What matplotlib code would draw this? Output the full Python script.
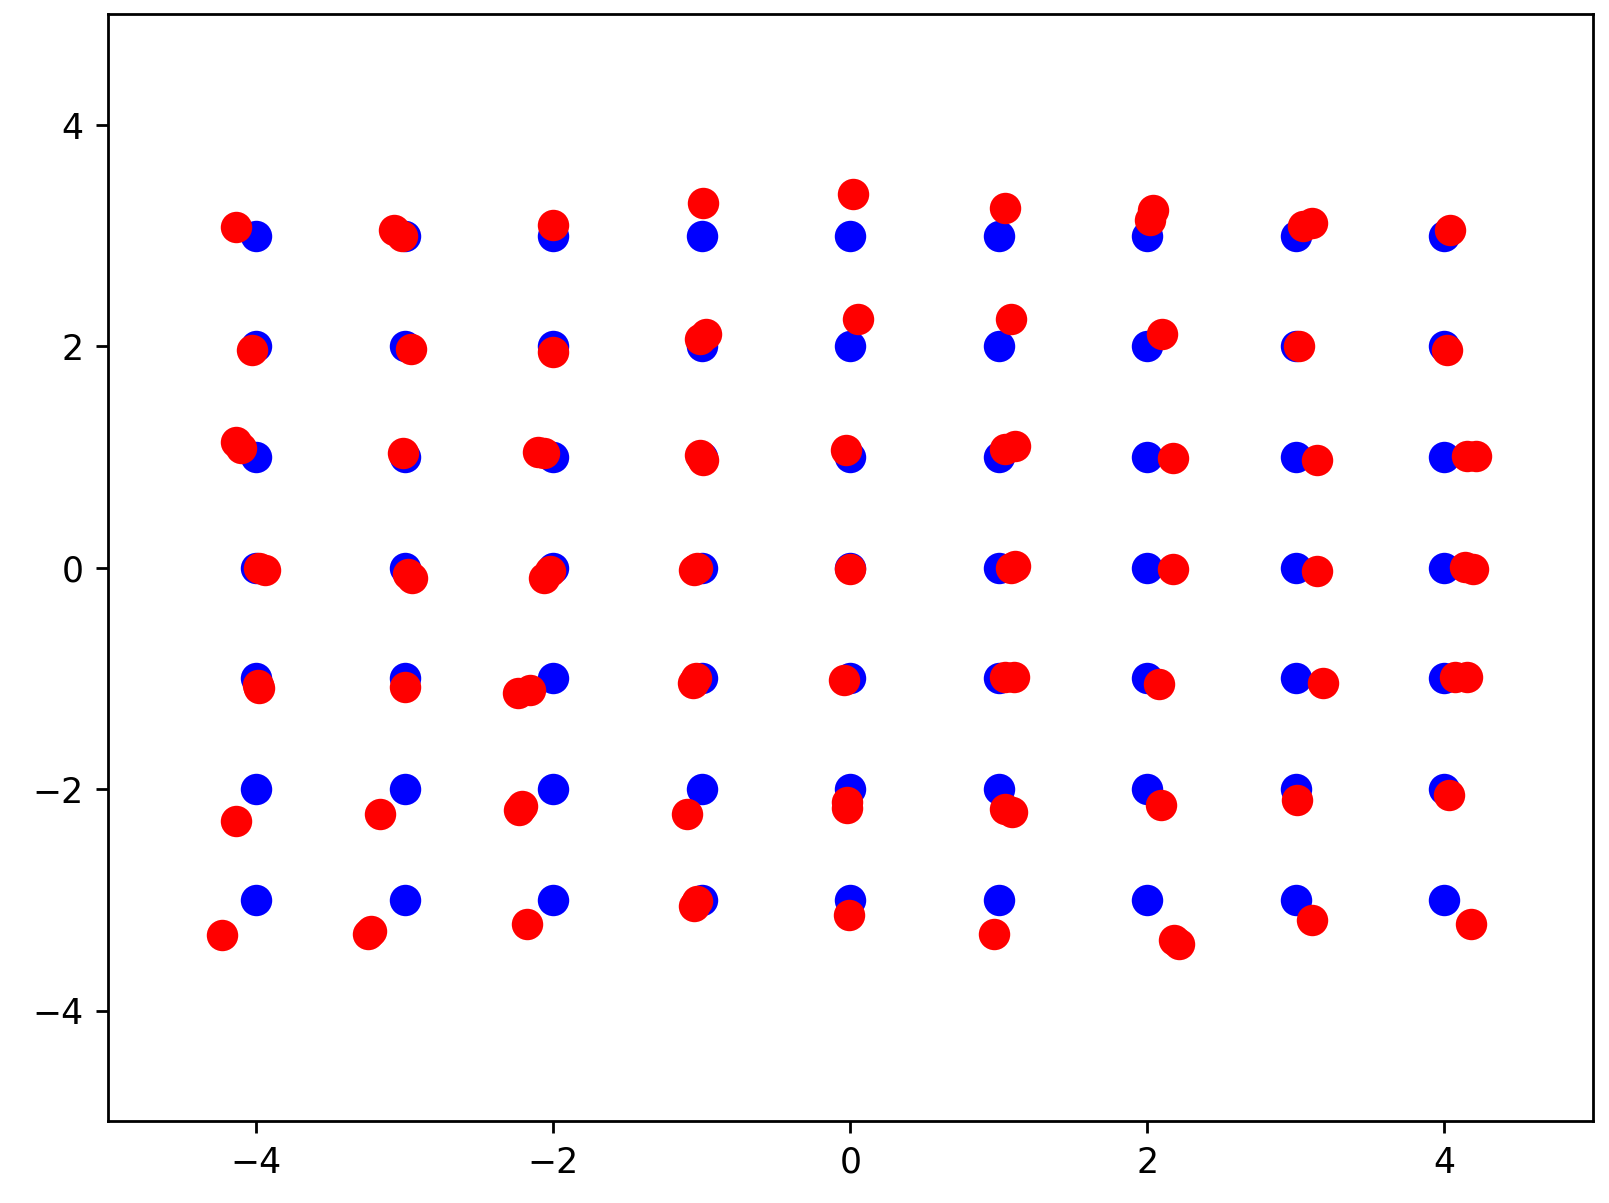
import matplotlib
matplotlib.use("Agg")
import matplotlib.pyplot as plt
import numpy as np

# original grid (blue)
grid_x = [-4, -3, -2, -1, 0, 1, 2, 3, 4]
grid_y = [3, 2, 1, 0, -1, -2, -3]

# displaced points (red)
red_x = [
    -4.14, -3.07, -3.02, -2.00, -0.99, 0.02, 1.04, 2.04, 2.02, 3.05, 3.11, 4.04,
    -4.03, -2.96, -2.00, -1.01, -0.97, 0.05, 1.08, 2.10, 3.02, 4.02,
    -4.14, -4.10, -3.01, -2.10, -2.06, -1.01, -0.99, -0.03, 1.04, 1.11, 2.17, 3.14, 4.15, 4.21,
    -3.98, -3.94, -2.98, -2.95, -2.06, -2.02, -1.05, -1.03, 0.00, 1.08, 1.11, 2.17, 3.14, 4.14, 4.19,
    -3.98, -3.99, -3.00, -2.24, -2.16, -1.06, -1.04, -0.04, 1.04, 1.10, 2.08, 3.18, 4.07, 4.15,
    -4.14, -3.17, -2.23, -2.21, -1.10, -0.02, -0.02, 1.04, 1.09, 2.09, 3.01, 4.03,
    -4.23, -3.25, -3.23, -2.18, -1.05, -1.03, -0.01, 0.97, 2.18, 2.21, 3.11, 4.18,
]
red_y = [
    3.08, 3.05, 3.00, 3.10, 3.30, 3.38, 3.25, 3.23, 3.14, 3.09, 3.12, 3.05,
    1.97, 1.98, 1.95, 2.07, 2.11, 2.25, 2.25, 2.11, 2.00, 1.97,
    1.14, 1.08, 1.04, 1.05, 1.04, 1.02, 0.97, 1.06, 1.07, 1.10, 0.99, 0.97, 1.01, 1.01,
    0.00, -0.02, -0.06, -0.09, -0.09, -0.03, -0.02, 0.00, -0.01, 0.00, 0.02, -0.01, -0.03, 0.01, -0.01,
    -1.09, -1.06, -1.08, -1.13, -1.10, -1.04, -1.00, -1.01, -0.99, -0.99, -1.05, -1.04, -0.99, -0.99,
    -2.29, -2.22, -2.19, -2.15, -2.22, -2.17, -2.12, -2.18, -2.21, -2.14, -2.10, -2.05,
    -3.32, -3.31, -3.28, -3.22, -3.06, -3.01, -3.14, -3.31, -3.36, -3.40, -3.18, -3.22,
]


def main() -> None:
    gx, gy = np.meshgrid(grid_x, grid_y)

    fig = plt.figure(figsize=(1609 / 250, 1203 / 250), dpi=250)
    ax = fig.add_axes([0.067, 0.068, 0.923, 0.920])
    ax.scatter(gx.ravel(), gy.ravel(), s=82, color="blue", linewidths=0)
    ax.scatter(red_x, red_y, s=82, color="red", linewidths=0)
    ax.set_xlim(-5, 5)
    ax.set_ylim(-5, 5)
    ax.set_xticks([-4, -2, 0, 2, 4])
    ax.set_yticks([-4, -2, 0, 2, 4])
    fig.savefig("out.png", dpi=250)
    plt.close(fig)


if __name__ == "__main__":
    main()
